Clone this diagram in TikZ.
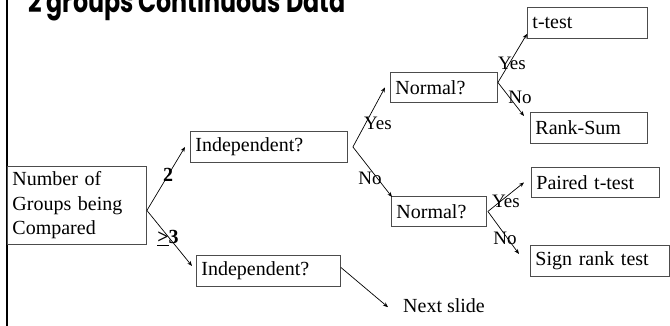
\documentclass[tikz,border=0pt]{standalone}
\usepackage{fontspec}
\setmainfont{Liberation Serif}
\newfontfamily\titlefont{Poppins}
\usetikzlibrary{arrows.meta}
\tikzset{
  box/.style={draw=black!70, line width=0.9pt, anchor=north west, inner xsep=5pt, inner ysep=0pt,
    align=left, font=\fontsize{20}{24.5}\selectfont},
  lbl/.style={font=\fontsize{19}{22}\selectfont, inner sep=0pt},
  num/.style={font=\fontsize{20}{22}\selectfont\bfseries, inner sep=0pt},
  conn/.style={line width=0.7pt, -{Stealth[length=5pt,width=4pt]}},
}
\begin{document}
\begin{tikzpicture}[x=1pt,y=-1pt]
\useasboundingbox (0,0) rectangle (670,325);
\clip (0,0) rectangle (670,325);
% title and left rule
\node[anchor=base west, inner sep=0pt] (title) at (28,12)
  {\scalebox{1}[1.3]{\resizebox{317pt}{!}{\titlefont\bfseries\fontsize{26}{30}\selectfont 2 groups Continuous Data}}};
\draw[line width=2.6pt] (7,-5) coordinate (ltop) -- (7,330) coordinate (lbot);
% boxes
\node[box, minimum width=139pt, minimum height=78pt, text width=129pt] (numb) at (7,166)
  {Number of\\Groups being\\Compared};
\node[box, minimum width=157pt, minimum height=31pt, text width=147pt] (ind1) at (190,131) {Independent?};
\node[box, minimum width=144pt, minimum height=31pt, text width=134pt] (ind2) at (196,255) {Independent?};
\node[box, minimum width=107pt, minimum height=30pt, text width=97pt] (nor1) at (390,72) {Normal?};
\node[box, minimum width=95pt, minimum height=30pt, text width=85pt] (nor2) at (391,196) {Normal?};
\node[box, minimum width=120pt, minimum height=31pt, text width=110pt] (ttest) at (527,7) {t-test};
\node[box, minimum width=117pt, minimum height=31pt, text width=107pt] (rank) at (530,112) {Rank-Sum};
\node[box, minimum width=128pt, minimum height=30pt, text width=118pt] (paired) at (531,167) {Paired t-test};
\node[box, minimum width=139pt, minimum height=31pt, text width=129pt] (sign) at (530,245) {Sign rank test};
\node[anchor=base west, inner sep=0pt, font=\fontsize{20}{24}\selectfont] (next) at (403,312) {Next slide};
% connectors
\draw[conn] ([yshift=-5pt]numb.east) -- ([xshift=-5pt]ind1.west);
\draw[conn] ([yshift=-5pt]numb.east) -- ([xshift=-4pt,yshift=5pt]ind2.west);
\draw[conn] ([xshift=5pt]ind1.east) -- ([xshift=-5pt]nor1.west);
\draw[conn] ([xshift=5pt]ind1.east) -- ([xshift=1pt,yshift=-1pt]nor2.north west);
\draw[conn] ([yshift=5pt]nor1.east) -- ([yshift=5pt]ttest.south west);
\draw[conn] ([yshift=5pt]nor1.east) -- ([xshift=-6pt,yshift=-4pt]rank.north west);
\draw[conn] ([xshift=1pt]nor2.east) -- ([xshift=-7pt]paired.west);
\draw[conn] ([xshift=1pt]nor2.east) -- ([xshift=-11pt,yshift=-9pt]sign.north west);
\draw[conn] ([yshift=3.5pt]ind2.east) -- ([xshift=-15pt,yshift=-2pt]next.west);
% labels
\node[num] (l2) at (168,175) {2};
\node[num] (l3) at (168,238) {\underline{>}3};
\node[lbl] (y1) at (378,123) {Yes};
\node[lbl] (n1) at (370,178) {No};
\node[lbl] (y2) at (512,63) {Yes};
\node[lbl] (n2) at (520,97) {No};
\node[lbl] (y3) at (506,201) {Yes};
\node[lbl] (n3) at (505,238) {No};
\end{tikzpicture}
\end{document}
